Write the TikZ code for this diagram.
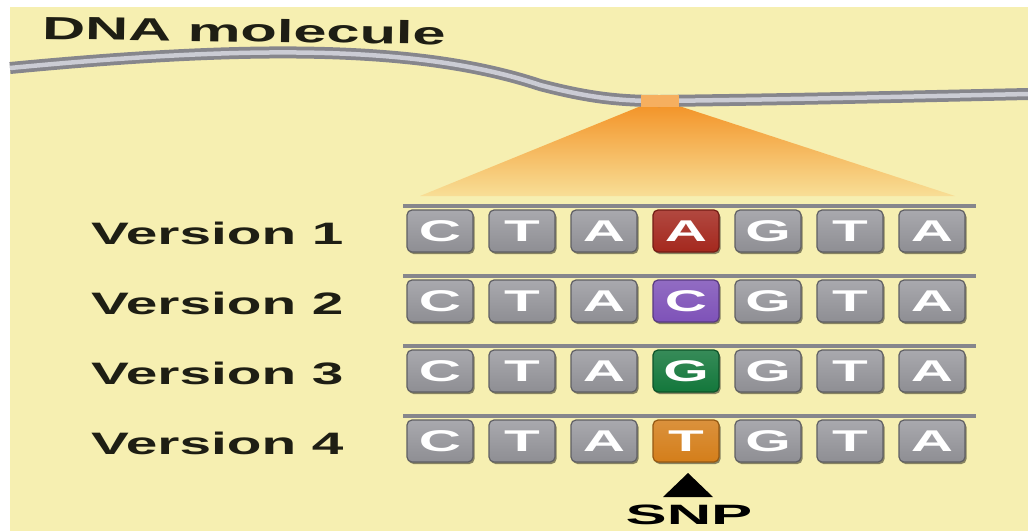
\documentclass[tikz,border=0pt]{standalone}
\usepackage{fontspec}
\setmainfont{Liberation Sans}
\usetikzlibrary{shadows}
\definecolor{bgyellow}{HTML}{F6EFB1}
\definecolor{tilegray}{HTML}{8E8E93}
\definecolor{tilegrayl}{HTML}{A9A9AE}
\definecolor{tileedge}{HTML}{5F5F64}
\definecolor{snpred}{HTML}{A4281E}
\definecolor{snppurple}{HTML}{7E52B8}
\definecolor{snpgreen}{HTML}{13773B}
\definecolor{snporange}{HTML}{D47E1A}
\definecolor{strandout}{HTML}{86868C}
\definecolor{strandin}{HTML}{CBCCD4}
\definecolor{triorange}{HTML}{F3952A}
\definecolor{trilight}{HTML}{F8DE96}
\definecolor{inkdark}{HTML}{1E1E14}
\newcommand{\stretchx}[1]{\scalebox{1.95}[1]{#1}}
\newcommand{\stretchv}[1]{\scalebox{1.83}[1]{#1}}
\tikzset{
  base/.style={rectangle, minimum width=66pt, minimum height=42pt, rounded corners=5pt, inner sep=0pt,
    font=\fontsize{30}{30}\selectfont\bfseries, text=white,
    drop shadow={shadow xshift=1.5pt, shadow yshift=-2pt, opacity=0.45, fill=black}},
  graybase/.style={base, draw=tileedge, line width=1.2pt, top color=tilegrayl, bottom color=tilegray},
  hibase/.style={base, draw=#1!70!black, line width=1.2pt, top color=#1!85!white, bottom color=#1},
  vlabel/.style={anchor=base west, inner sep=0pt, text=inkdark, font=\fontsize{31}{31}\selectfont\bfseries},
}
\begin{document}
\begin{tikzpicture}[x=1pt,y=-1pt]
\useasboundingbox (0,0) rectangle (1028,531);
\fill[white] (0,0) rectangle (1028,531);
\fill[bgyellow] (10,7) rectangle (1028,531);

% magnified region
\shade[top color=triorange, bottom color=trilight] (641,106) -- (679,106) -- (955,196) -- (420,196) -- cycle;

% DNA strand
\draw[line width=12pt, strandout, line cap=butt]
  (10,68) .. controls (250,45) and (420,45) .. (540,85) .. controls (590,98) and (620,101) .. (660,101) .. controls (800,99) .. (1028,94);
\draw[line width=4.5pt, strandin, line cap=butt]
  (10,68) .. controls (250,45) and (420,45) .. (540,85) .. controls (590,98) and (620,101) .. (660,101) .. controls (800,99) .. (1028,94);
\draw[line width=12pt, triorange!75!white] (641,101) -- (679,101);

\node[anchor=base west, inner sep=0pt, rotate=-0.8, text=inkdark, font=\fontsize{32}{32}\selectfont\bfseries] (dna) at (42,39) {\scalebox{1.86}[1]{DNA molecule}};

% rows
\foreach \r/\hi/\hc in {1/A/snpred, 2/C/snppurple, 3/G/snpgreen, 4/T/snporange}{
  \pgfmathsetmacro{\yc}{231+70*(\r-1)}
  \draw[line width=4pt, strandout] (403,\yc-25) -- (976,\yc-25);
  \node[vlabel] (v\r) at (91,\yc+13) {\stretchv{Version \r}};
  \node[graybase] (t\r1) at (440,\yc) {\stretchx{C}};
  \node[graybase] (t\r2) at (522,\yc) {\stretchx{T}};
  \node[graybase] (t\r3) at (604,\yc) {\stretchx{A}};
  \node[hibase=\hc] (t\r4) at (686,\yc) {\stretchx{\hi}};
  \node[graybase] (t\r5) at (768,\yc) {\stretchx{G}};
  \node[graybase] (t\r6) at (850,\yc) {\stretchx{T}};
  \node[graybase] (t\r7) at (932,\yc) {\stretchx{A}};
}

% SNP marker
\fill[black] (688,473) -- (713,497) -- (663,497) -- cycle;
\node[anchor=base, inner sep=0pt, font=\fontsize{28}{28}\selectfont\bfseries] (snp) at (689,524) {\scalebox{2.2}[1]{SNP}};
\end{tikzpicture}
\end{document}
